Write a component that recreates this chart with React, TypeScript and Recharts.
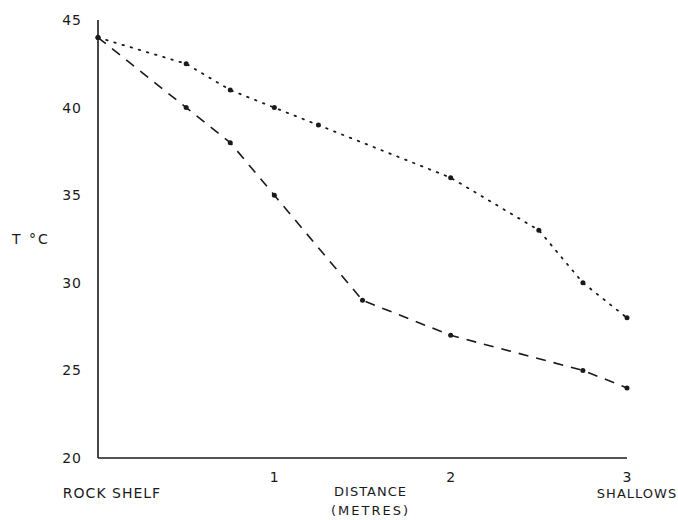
import React from "react";
import { LineChart, Line, XAxis, YAxis, Label } from "recharts";

// Distance along the transect (metres) and temperature (°C)
const dottedX = [0, 0.5, 0.75, 1, 1.25, 2, 2.5, 2.75, 3];
const dottedT = [44, 42.5, 41, 40, 39, 36, 33, 30, 28];
const dashedX = [0, 0.5, 0.75, 1, 1.5, 2, 2.75, 3];
const dashedT = [44, 40, 38, 35, 29, 27, 25, 24];

const xTicks = [0, 1, 2, 3];
const xTickLabels = ["", "1", "2", "3"];
const xTickSubLabels = ["ROCK SHELF", "", "", "SHALLOWS"];
const yTicks = [20, 25, 30, 35, 40, 45];
const yLabel = "T °C";
const xLabelLines = ["DISTANCE", "(METRES)"];

const dottedData = dottedX.map((d, i) => ({ d, t: dottedT[i] }));
const dashedData = dashedX.map((d, i) => ({ d, t: dashedT[i] }));

const FONT = "'DejaVu Sans', sans-serif";
const INK = "#1a1a1a";

const XTick = (props: any) => {
  const { x, y, payload } = props;
  const i = xTicks.indexOf(payload.value);
  const main = xTickLabels[i];
  const sub = xTickSubLabels[i];
  return (
    <g>
      {main ? (
        <text x={x} y={y + 22} textAnchor="middle" fontFamily={FONT} fontSize={14} fill={INK}>
          {main}
        </text>
      ) : null}
      {sub ? (
        <text
          x={i === 0 ? x + 14 : x + 10}
          y={y + 38}
          textAnchor="middle"
          fontFamily={FONT}
          fontSize={i === 0 ? 14 : 13}
          letterSpacing={1}
          fill={INK}
        >
          {sub}
        </text>
      ) : null}
    </g>
  );
};

const XAxisLabel = (props: any) => {
  const { viewBox } = props;
  const cx = viewBox.x + viewBox.width / 2 + 8;
  const y0 = viewBox.y;
  return (
    <g>
      <text x={cx} y={y0 + 38} textAnchor="middle" fontFamily={FONT} fontSize={13} letterSpacing={1} fill={INK}>
        {xLabelLines[0]}
      </text>
      <text x={cx} y={y0 + 57} textAnchor="middle" fontFamily={FONT} fontSize={13} letterSpacing={2} fill={INK}>
        {xLabelLines[1]}
      </text>
    </g>
  );
};

const Dot = (props: any) => {
  const { cx, cy } = props;
  return <circle cx={cx} cy={cy} r={2.5} fill={INK} stroke="none" />;
};

export default function App() {
  return (
    <div style={{ position: "absolute", left: 0, top: 0, width: 678, height: 520, background: "#fff" }}>
      <LineChart width={678} height={520} margin={{ top: 20, right: 51, bottom: 0, left: 0 }}>
        <XAxis
          dataKey="d"
          type="number"
          domain={[0, 3]}
          ticks={xTicks}
          tickLine={false}
          tickSize={0}
          tick={<XTick />}
          axisLine={{ stroke: INK, strokeWidth: 1.6 }}
          allowDuplicatedCategory={false}
          height={62}
          label={<XAxisLabel />}
        />
        <YAxis
          dataKey="t"
          type="number"
          domain={[20, 45]}
          ticks={yTicks}
          width={98}
          tickLine={false}
          tickSize={0}
          tickMargin={16}
          tick={{ fontFamily: FONT, fontSize: 14, fill: INK, letterSpacing: 1 }}
          axisLine={{ stroke: INK, strokeWidth: 1.6 }}
        >
          <Label
            value={yLabel}
            position="insideLeft"
            offset={12}
            style={{ fontFamily: FONT, fontSize: 14, fill: INK, letterSpacing: 2 }}
          />
        </YAxis>
        <Line
          data={dottedData}
          dataKey="t"
          type="linear"
          stroke={INK}
          strokeWidth={1.8}
          strokeDasharray="1.5 7"
          strokeLinecap="round"
          dot={<Dot />}
          activeDot={false}
          isAnimationActive={false}
        />
        <Line
          data={dashedData}
          dataKey="t"
          type="linear"
          stroke={INK}
          strokeWidth={1.6}
          strokeDasharray="10 8"
          dot={<Dot />}
          activeDot={false}
          isAnimationActive={false}
        />
      </LineChart>
    </div>
  );
}
